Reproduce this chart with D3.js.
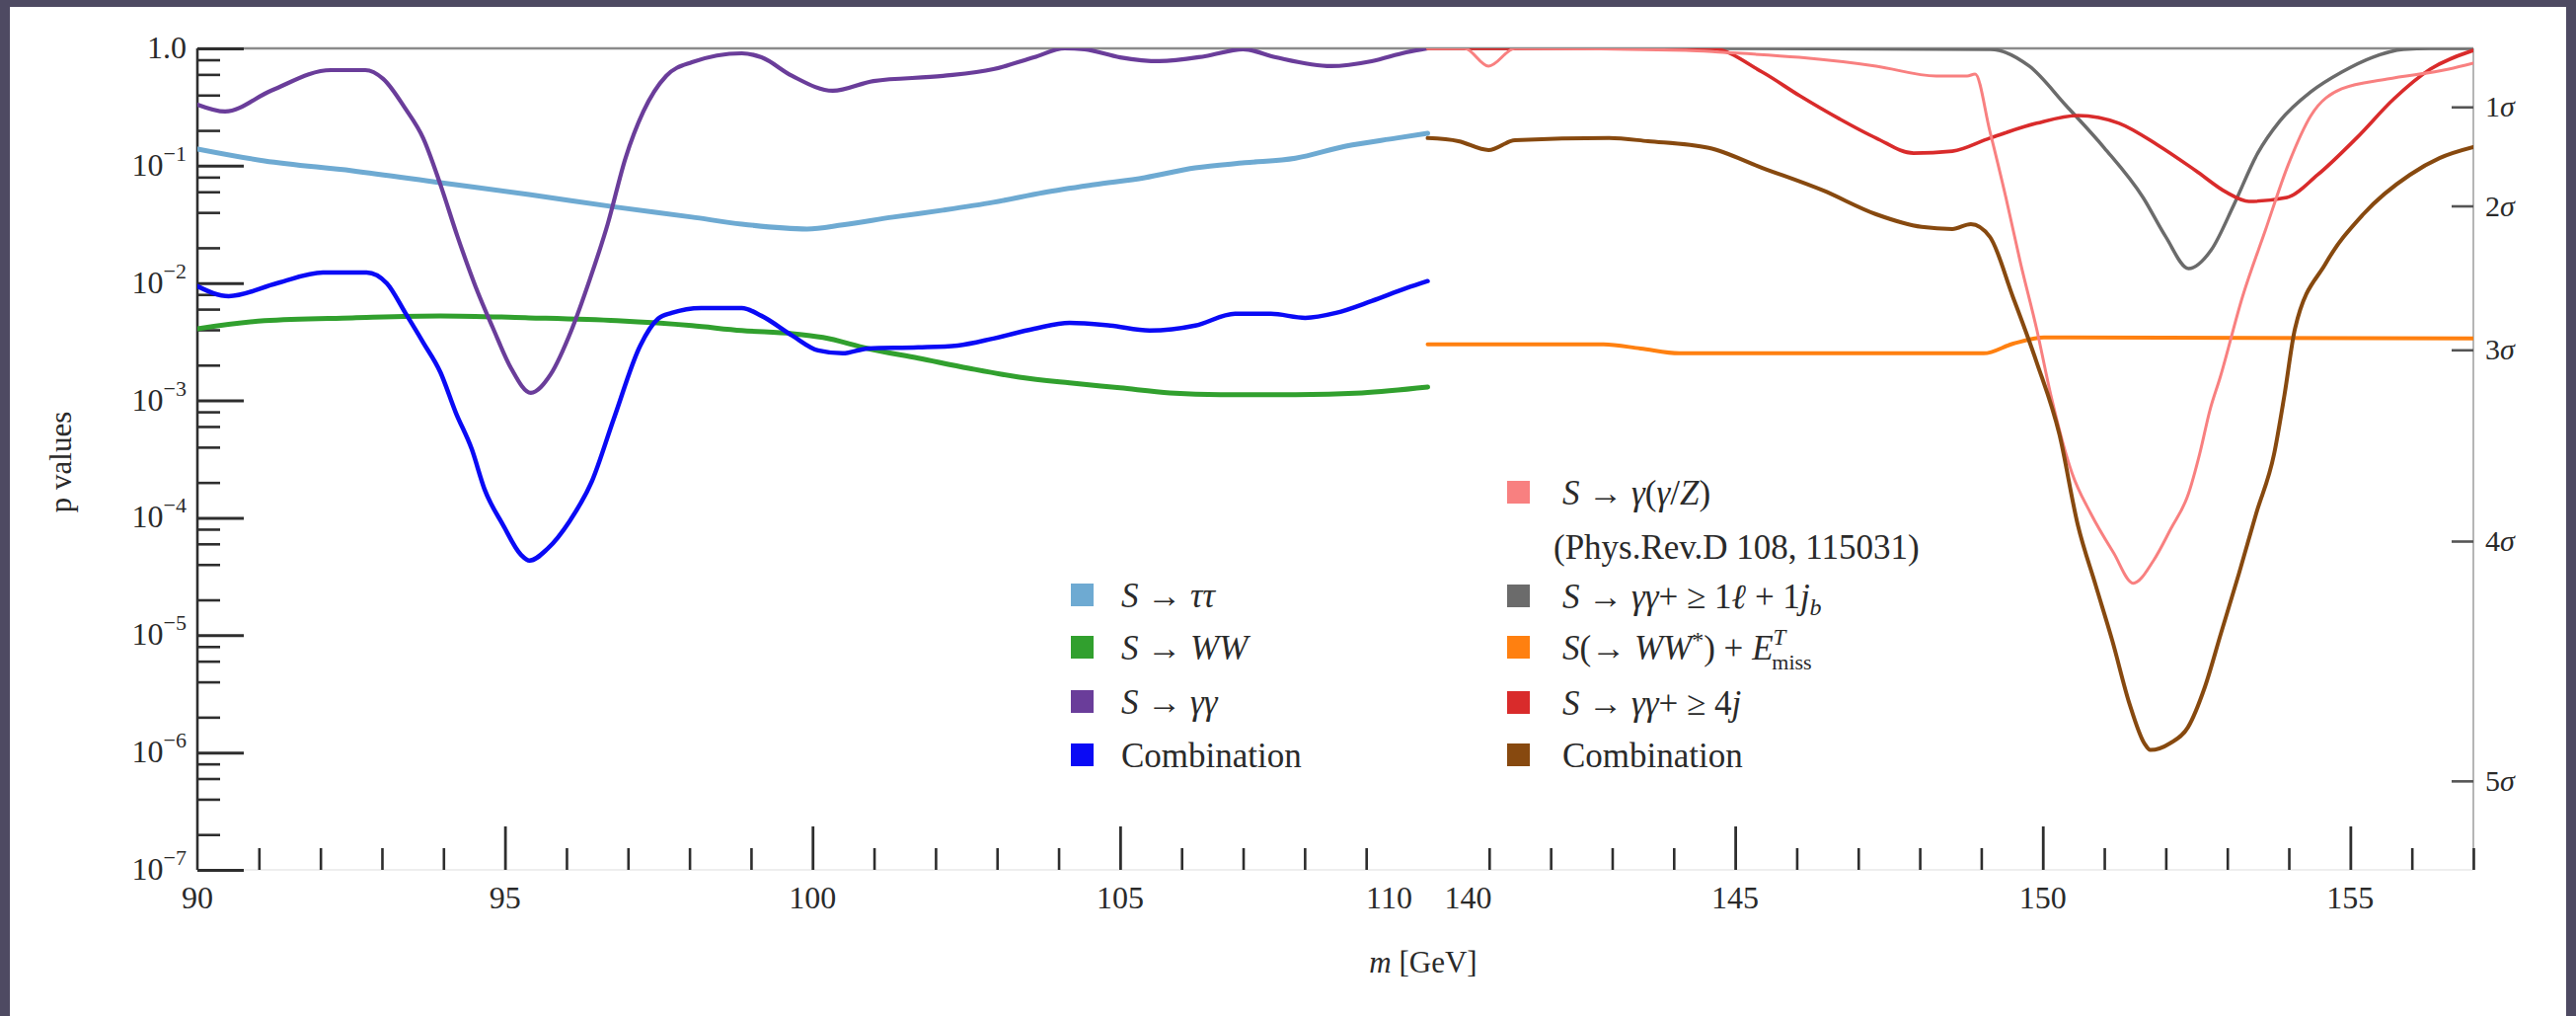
<!DOCTYPE html>
<html><head><meta charset="utf-8">
<script src="https://cdn.jsdelivr.net/npm/d3@7"></script>
<style>
html,body{margin:0;padding:0;background:#4e4a62;}
svg{display:block}
text{font-family:"Liberation Serif","DejaVu Serif",serif;fill:#2a2a2a;}
</style></head><body>
<svg id="chart" width="2610" height="1029"></svg>
<script>
// ---------- axis / tick data ----------
const xMajorTicks = [95, 100, 105, 145, 150, 155];
const xMinorTicks = [91,92,93,94,96,97,98,99,101,102,103,104,106,107,108,109,141,142,143,144,146,147,148,149,151,152,153,154,156,157];
const xTickLabels = ["90","95","100","105","110","140","145","150","155"];
const xTickLabelPos = [90,95,100,105,110,140,145,150,155];
const yDecadeExp = [0,-1,-2,-3,-4,-5,-6,-7];
const yMinorMant = [2,4,6,8];
const sigmaP = [0.3173, 0.0455, 0.0027, 6.334e-5, 5.733e-7];
const sigmaLabels = ["1","2","3","4","5"];

// ---------- series (mass in GeV, local p-value) ----------
const ttMass = [90,91.09,92.52,93.95,95.39,96.82,98.04,98.85,99.91,100.49,101.31,102.12,102.94,103.76,104.58,105.40,106.22,107.03,107.85,108.67,109.49,110];
const ttP    = [0.139,0.110,0.0906,0.0718,0.0569,0.0443,0.0365,0.0318,0.0289,0.0313,0.0365,0.0418,0.0488,0.0592,0.0690,0.0791,0.0959,0.106,0.116,0.147,0.172,0.189];

const wwMass = [90,91.09,92.52,93.95,95.39,96.82,98.04,98.85,99.67,100.17,100.90,101.72,102.54,103.36,104.18,105.0,105.81,106.63,107.85,108.93,110];
const wwP    = [4.08e-3,4.78e-3,5.06e-3,5.26e-3,5.06e-3,4.78e-3,4.34e-3,3.94e-3,3.71e-3,3.44e-3,2.77e-3,2.29e-3,1.88e-3,1.58e-3,1.41e-3,1.28e-3,1.16e-3,1.12e-3,1.12e-3,1.16e-3,1.30e-3];

const aaMass = [90,90.45,91.2,92.17,92.73,93.02,93.38,93.67,93.95,94.23,94.52,94.81,95.10,95.42,95.74,96.09,96.38,96.67,96.96,97.25,97.62,98.04,98.85,99.17,99.67,100.33,100.99,102.12,102.94,103.60,104.10,104.42,105.0,105.64,106.38,107.0,107.53,108.43,109.09,109.65,110];
const aaP    = [0.332,0.290,0.437,0.653,0.653,0.550,0.307,0.172,0.0692,0.0248,0.0094,0.00408,0.00188,0.00116,0.00166,0.00408,0.01076,0.0318,0.1164,0.29,0.582,0.762,0.908,0.839,0.582,0.435,0.527,0.582,0.665,0.839,1.0,0.982,0.839,0.778,0.857,0.982,0.839,0.706,0.778,0.925,1.0];

const combLMass = [90,90.51,91.3,92.04,92.75,93.08,93.38,93.67,93.95,94.20,94.46,94.67,94.97,95.26,95.40,95.69,96.05,96.41,96.77,97.20,97.49,97.71,98.19,98.85,99.17,99.67,100.09,100.49,100.9,101.72,102.36,102.94,103.60,104.18,104.84,105.48,106.22,106.87,107.45,108.01,108.51,109.09,109.65,110];
const combLP    = [9.40e-3,7.74e-3,1.0e-2,1.23e-2,1.23e-2,9.95e-3,5.57e-3,3.12e-3,1.74e-3,7.89e-4,3.85e-4,1.74e-4,8.67e-5,4.84e-5,4.32e-5,5.44e-5,9.35e-5,2.03e-4,7.01e-4,2.94e-3,4.97e-3,5.57e-3,6.14e-3,6.14e-3,5.26e-3,3.57e-3,2.67e-3,2.52e-3,2.77e-3,2.83e-3,2.94e-3,3.37e-3,4.08e-3,4.59e-3,4.34e-3,3.94e-3,4.34e-3,5.47e-3,5.47e-3,5.06e-3,5.57e-3,7.03e-3,9.04e-3,1.04e-2];

const agzMass = [140,140.6,140.99,141.42,144.2,144.8,146.04,147.29,148.27,148.77,148.9,149.14,149.4,149.64,149.9,150.13,150.48,150.78,151.15,151.47,151.8,152.08,152.37,152.55,152.72,152.88,153.25,153.62,153.99,154.36,154.86,155.6,156.6,157];
const agzP    = [1,1,0.706,1,0.962,0.925,0.839,0.706,0.582,0.582,0.604,0.197,0.0537,0.0147,4.08e-3,1.12e-3,2.37e-4,1.09e-4,5.04e-5,2.77e-5,4.32e-5,8.02e-5,1.61e-4,3.49e-4,8.36e-4,1.55e-3,7.74e-3,0.0283,0.102,0.268,0.452,0.548,0.665,0.748];

const lbMass = [140,145,149.15,149.78,150.38,151.0,151.63,152.0,152.37,152.74,153.11,153.48,153.85,154.36,154.86,155.36,155.86,156.3,157];
const lbP    = [1,1,0.982,0.706,0.325,0.142,0.0537,0.0248,0.0133,0.0192,0.0469,0.124,0.239,0.427,0.628,0.839,0.982,1,1];

const metMass = [140,142.86,143.46,144.09,149.04,149.52,150.02,157];
const metP    = [3.0e-3,3.0e-3,2.77e-3,2.52e-3,2.52e-3,3.05e-3,3.44e-3,3.37e-3];

const fourjMass = [140,144.6,145.44,146.05,146.68,147.29,147.90,148.53,149.14,149.9,150.57,151.24,151.87,152.49,152.99,153.35,153.97,154.47,155.1,155.71,156.3,157];
const fourjP    = [1,1,0.628,0.394,0.253,0.172,0.128,0.133,0.172,0.230,0.268,0.230,0.150,0.0906,0.0592,0.0497,0.0537,0.0838,0.172,0.372,0.665,0.962];

const combRMass = [140,140.5,140.99,141.42,142.95,143.58,144.57,145.44,146.43,147.29,148.03,148.53,148.83,149.14,149.51,149.9,150.27,150.57,150.86,151.13,151.41,151.65,151.75,152.07,152.36,152.63,152.9,153.19,153.47,153.76,153.93,154.1,154.6,155.21,155.97,156.45,157];
const combRP    = [0.172,0.162,0.136,0.165,0.172,0.162,0.142,0.0959,0.0615,0.0386,0.0301,0.0289,0.0318,0.0248,7.74e-3,2.12e-3,5.15e-4,8.67e-5,2.66e-5,9.0e-6,2.60e-6,1.20e-6,1.05e-6,1.20e-6,1.64e-6,3.55e-6,1.05e-5,3.36e-5,1.09e-4,3.49e-4,1.12e-3,4.08e-3,0.0147,0.0386,0.0838,0.116,0.144];

// ---------- drawing ----------
const W = 2610, H = 1029;
const svg = d3.select("#chart");
svg.append("rect").attr("width", W).attr("height", H).attr("fill", "#4e4a62");
svg.append("rect").attr("x", 10).attr("y", 7).attr("width", 2590).attr("height", 1022).attr("fill", "#ffffff");

const x = d3.scaleLinear().domain([90, 110, 140, 157]).range([200, 1446.5, 1446.5, 2506]);
const y = d3.scaleLog().domain([1e-7, 1]).range([881, 49]);
const X0 = x(90), X1 = x(157), Y0 = y(1), Y1 = y(1e-7);

svg.append("defs").append("clipPath").attr("id", "plotclip")
  .append("rect").attr("x", X0).attr("y", Y0).attr("width", X1 - X0).attr("height", Y1 - Y0);

// frame
svg.append("line").attr("x1", X0).attr("x2", X1).attr("y1", Y0).attr("y2", Y0).attr("stroke", "#8a8a8a").attr("stroke-width", 2.5);
svg.append("line").attr("x1", X0).attr("x2", X1).attr("y1", Y1).attr("y2", Y1).attr("stroke", "#eeeeee").attr("stroke-width", 2);
svg.append("line").attr("x1", X1).attr("x2", X1).attr("y1", Y0).attr("y2", Y1).attr("stroke", "#b5b5b5").attr("stroke-width", 2);

function styleAxis(g, color, width) {
  g.select(".domain").remove();
  g.selectAll(".tick line").attr("stroke", color).attr("stroke-width", width);
}

// x ticks (drawn upward from baseline)
svg.append("g").attr("transform", `translate(0,${Y1})`)
  .call(d3.axisBottom(x).tickValues(xMinorTicks).tickSize(-22).tickFormat(""))
  .call(g => styleAxis(g, "#2e2e2e", 2.6));
svg.append("g").attr("transform", `translate(0,${Y1})`)
  .call(d3.axisBottom(x).tickValues(xMajorTicks).tickSize(-44).tickFormat(""))
  .call(g => styleAxis(g, "#2e2e2e", 2.8));

// x labels (110 / 140 pushed apart at the break)
xTickLabels.forEach((t, i) => {
  const v = xTickLabelPos[i];
  let px = x(v);
  if (v === 110) px -= 39;
  if (v === 140) px += 41;
  svg.append("text").attr("x", px).attr("y", 920).attr("text-anchor", "middle")
    .attr("font-size", 32).text(t);
});

// y ticks
const yMajorVals = yDecadeExp.map(e => Math.pow(10, e));
const yMinorVals = [];
yDecadeExp.slice(1).forEach(e => yMinorMant.forEach(mn => yMinorVals.push(mn * Math.pow(10, e))));
svg.append("g").attr("transform", `translate(${X0},0)`)
  .call(d3.axisLeft(y).tickValues(yMinorVals).tickSize(-23).tickFormat(""))
  .call(g => styleAxis(g, "#2e2e2e", 2.6));
svg.append("g").attr("transform", `translate(${X0},0)`)
  .call(d3.axisLeft(y).tickValues(yMajorVals).tickSize(-47).tickFormat(""))
  .call(g => styleAxis(g, "#2e2e2e", 3));
svg.append("line").attr("x1", X0).attr("x2", X0).attr("y1", Y0).attr("y2", Y1).attr("stroke", "#2e2e2e").attr("stroke-width", 2.6);

// y labels
yDecadeExp.forEach(e => {
  const py = y(Math.pow(10, e)) + 10;
  const t = svg.append("text").attr("x", 189).attr("y", py).attr("text-anchor", "end").attr("font-size", 32);
  if (e === 0) { t.text("1.0"); }
  else {
    t.append("tspan").text("10");
    t.append("tspan").attr("dy", -15).attr("font-size", 22).text("\u2212" + (-e));
  }
});

// right sigma axis
svg.append("g").attr("transform", `translate(${X1},0)`)
  .call(d3.axisRight(y).tickValues(sigmaP).tickSize(-22).tickFormat(""))
  .call(g => styleAxis(g, "#555555", 2.6));
sigmaP.forEach((p, i) => {
  const t = svg.append("text").attr("x", 2518).attr("y", y(p) + 10).attr("font-size", 30);
  t.append("tspan").text(sigmaLabels[i]);
  t.append("tspan").attr("font-style", "italic").text("\u03C3");
});

// axis titles
svg.append("text").attr("transform", "translate(72,468) rotate(-90)").attr("text-anchor", "middle")
  .attr("font-size", 31).text("p values");
const mt = svg.append("text").attr("x", 1442).attr("y", 985).attr("text-anchor", "middle").attr("font-size", 31);
mt.append("tspan").attr("font-style", "italic").text("m");
mt.append("tspan").text(" [GeV]");

// lines
const series = [
  {m: ttMass, p: ttP, color: "#6eaad2", w: 5},
  {m: wwMass, p: wwP, color: "#31a02e", w: 5},
  {m: aaMass, p: aaP, color: "#6a3d9a", w: 4.2},
  {m: combLMass, p: combLP, color: "#0a0af5", w: 4.5},
  {m: metMass, p: metP, color: "#ff8010", w: 4},
  {m: lbMass, p: lbP, color: "#6b6b6b", w: 3.5},
  {m: fourjMass, p: fourjP, color: "#d92b2b", w: 3.6},
  {m: agzMass, p: agzP, color: "#f88080", w: 3},
  {m: combRMass, p: combRP, color: "#87490f", w: 4}
];
const line = d3.line().x(d => x(d[0])).y(d => y(d[1])).curve(d3.curveMonotoneX);
const lg = svg.append("g").attr("clip-path", "url(#plotclip)");
series.forEach(s => {
  lg.append("path").datum(s.m.map((m, i) => [m, s.p[i]]))
    .attr("d", line).attr("fill", "none").attr("stroke", s.color)
    .attr("stroke-width", s.w).attr("stroke-linejoin", "round").attr("stroke-linecap", "round");
});

// legend
const legendLeftColors = ["#6eaad2", "#31a02e", "#6a3d9a", "#0a0af5"];
const legendLeftY = [604, 657, 712, 766];
const legendRightColors = ["#f88080", null, "#6b6b6b", "#ff8010", "#d92b2b", "#87490f"];
const legendRightY = [500, 555, 605, 657, 713, 766];

function sw(xp, yc, c) {
  svg.append("rect").attr("x", xp).attr("y", yc - 13).attr("width", 23).attr("height", 23).attr("fill", c);
}
function lt(xp, yc, parts) {
  const t = svg.append("text").attr("x", xp).attr("y", yc + 11).attr("font-size", 35);
  parts.forEach(p => {
    const s = t.append("tspan").text(p.t);
    if (p.i) s.attr("font-style", "italic");
    if (p.fs) s.attr("font-size", p.fs);
    if (p.dy) s.attr("dy", p.dy);
    if (p.dx) s.attr("dx", p.dx);
  });
}
legendLeftColors.forEach((c, i) => sw(1085, legendLeftY[i], c));
lt(1136, legendLeftY[0], [{t: "S", i: 1}, {t: " \u2192 "}, {t: "\u03C4\u03C4", i: 1}]);
lt(1136, legendLeftY[1], [{t: "S", i: 1}, {t: " \u2192 "}, {t: "WW", i: 1}]);
lt(1136, legendLeftY[2], [{t: "S", i: 1}, {t: " \u2192 "}, {t: "\u03B3\u03B3", i: 1}]);
lt(1136, legendLeftY[3], [{t: "Combination"}]);

legendRightColors.forEach((c, i) => { if (c) sw(1527, legendRightY[i], c); });
lt(1583, legendRightY[0], [{t: "S", i: 1}, {t: " \u2192 "}, {t: "\u03B3", i: 1}, {t: "("}, {t: "\u03B3", i: 1}, {t: "/"}, {t: "Z", i: 1}, {t: ")"}]);
lt(1574, legendRightY[1], [{t: "(Phys.Rev.D 108, 115031)"}]);
lt(1583, legendRightY[2], [{t: "S", i: 1}, {t: " \u2192 "}, {t: "\u03B3\u03B3", i: 1}, {t: "+ \u2265 1"}, {t: "\u2113", i: 1}, {t: " + 1"}, {t: "j", i: 1}, {t: "b", i: 1, fs: 24, dy: 7}]);
lt(1583, legendRightY[3], [{t: "S", i: 1}, {t: "(\u2192 "}, {t: "WW", i: 1}, {t: "*", fs: 24, dy: -12}, {t: ") + ", dy: 12}, {t: "E", i: 1}, {t: "T", i: 1, fs: 23, dy: -15}, {t: "miss", fs: 22, dx: -14, dy: 25}]);
lt(1583, legendRightY[4], [{t: "S", i: 1}, {t: " \u2192 "}, {t: "\u03B3\u03B3", i: 1}, {t: "+ \u2265 4"}, {t: "j", i: 1}]);
lt(1583, legendRightY[5], [{t: "Combination"}]);
</script>
</body></html>
